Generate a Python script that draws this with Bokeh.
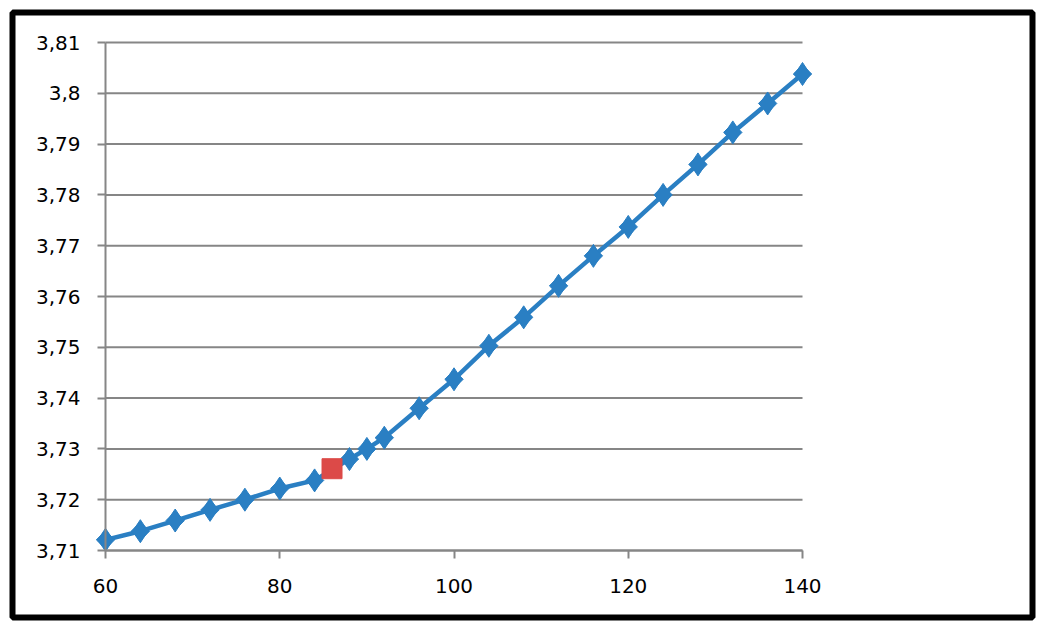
import math
from bokeh.plotting import figure
from bokeh.models import Range1d, FixedTicker, CustomJSTickFormatter
from bokeh.embed import file_html
from bokeh.resources import INLINE

x_vals = [60, 64, 68, 72, 76, 80, 84, 88, 90, 92, 96, 100, 104, 108, 112, 116, 120, 124, 128, 132, 136, 140]
y_vals = [3.7121, 3.7138, 3.7159, 3.7180, 3.7200, 3.7222, 3.7238, 3.7280, 3.7300, 3.7322, 3.7380, 3.7437,
          3.7503, 3.7559, 3.7621, 3.7680, 3.7737, 3.7800, 3.7860, 3.7923, 3.7980, 3.8038]
red_x = [86]
red_y = [3.7261]
x_ticks = [60, 80, 100, 120, 140]
y_ticks = [3.71, 3.72, 3.73, 3.74, 3.75, 3.76, 3.77, 3.78, 3.79, 3.80, 3.81]
x_lo, x_hi = 60, 140
y_lo, y_hi = 3.71, 3.81

BLUE = "#2A7FC3"
GRAY = "#868686"
FONT = "DejaVu Sans"

# Frame covers the whole inner card; the chart area sits inside it.
FL, FT, FR, FB = 12, 12, 1032, 617     # frame edges in px
AL, AR, AT, AB = 105, 802, 42, 550      # chart area edges in px
W, H = FR + 4, FB + 4
sx = (AR - AL) / (x_hi - x_lo)
sy = (AB - AT) / (y_hi - y_lo)

p = figure(width=W, height=H, output_backend="svg", toolbar_location=None,
           x_range=Range1d(x_lo - (AL - FL) / sx, x_hi + (FR - AR) / sx),
           y_range=Range1d(y_lo - (FB - AB) / sy, y_hi + (AT - FT) / sy),
           min_border_left=FL, min_border_right=4, min_border_top=FT, min_border_bottom=4)
p.outline_line_color = "black"
p.outline_line_width = 6
p.background_fill_color = "white"
p.border_fill_color = "white"

p.xgrid.visible = False
p.ygrid.visible = False
p.segment(x0=[x_lo] * len(y_ticks), y0=y_ticks, x1=[x_hi] * len(y_ticks), y1=y_ticks,
          line_color=GRAY, line_width=2)

for ax in (p.xaxis[0], p.yaxis[0]):
    ax.axis_line_color = GRAY
    ax.axis_line_width = 2
    ax.major_tick_line_color = GRAY
    ax.major_tick_line_width = 2
    ax.major_tick_out = 8
    ax.major_tick_in = 0
    ax.minor_tick_line_color = None
    ax.major_label_text_font = FONT
    ax.major_label_text_font_size = "20px"
    ax.major_label_text_color = "black"

p.xaxis.fixed_location = y_lo
p.xaxis.bounds = (x_lo, x_hi)
p.xaxis.ticker = FixedTicker(ticks=x_ticks)
p.xaxis.major_label_standoff = 20
p.yaxis.fixed_location = x_lo
p.yaxis.bounds = (y_lo, y_hi)
p.yaxis.ticker = FixedTicker(ticks=y_ticks)
p.yaxis.major_label_standoff = 17
p.yaxis.formatter = CustomJSTickFormatter(
    code="return parseFloat(tick.toFixed(2)).toString().replace('.', ',');")

p.line(x_vals, y_vals, line_color=BLUE, line_width=4.5)
p.scatter(x_vals, y_vals, marker="diamond", size=23, fill_color=BLUE, line_color=BLUE)
p.scatter(x_vals, y_vals, marker="square", size=13, angle=math.pi / 4, fill_color=BLUE, line_color=BLUE)
p.scatter(red_x, red_y, marker="square", size=20, fill_color="#DC4A48", line_color="#DC4A48")

open("out.html", "w").write(file_html(p, INLINE))
